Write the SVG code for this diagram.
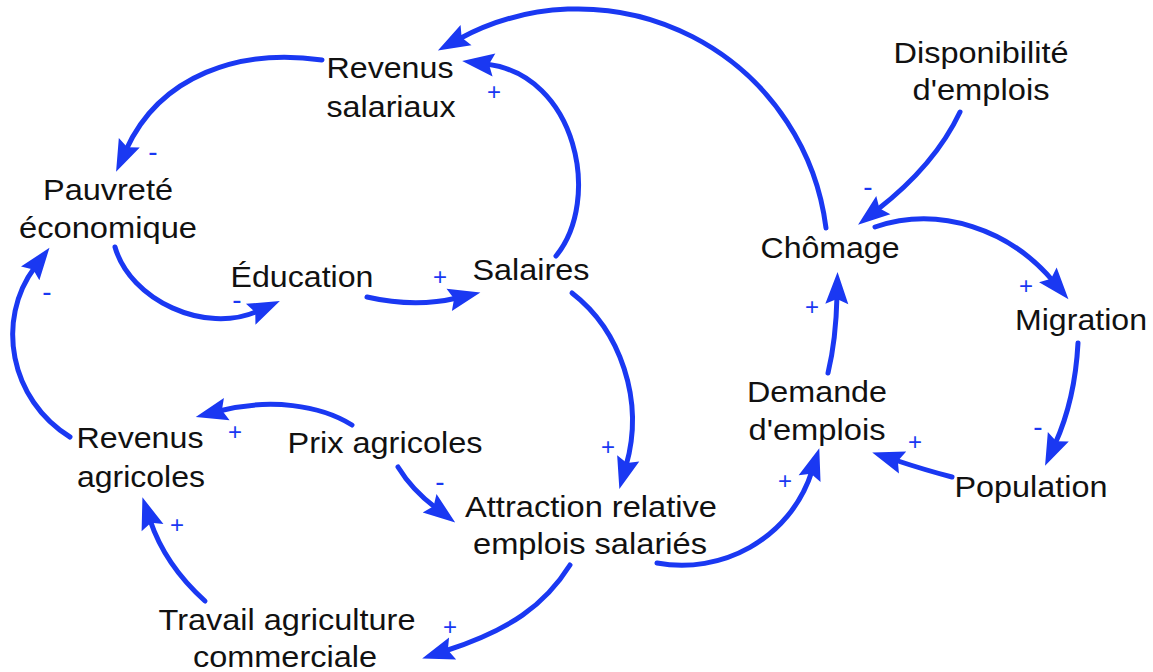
<svg xmlns="http://www.w3.org/2000/svg" width="1153" height="672" viewBox="0 0 1153 672">
<style>
.n{font-family:"Liberation Sans",Arial,sans-serif;font-size:30px;fill:#111;text-anchor:middle}
.c{fill:none;stroke:#1a38f2;stroke-width:5;stroke-linecap:round;marker-end:url(#ah)}
.p{font-family:"Liberation Sans",Arial,sans-serif;font-size:24px;fill:#1a38f2;text-anchor:middle}
.m{font-family:"Liberation Sans",Arial,sans-serif;font-size:28px;fill:#1a38f2;text-anchor:middle}
</style>
<defs>
<marker id="ah" markerUnits="userSpaceOnUse" markerWidth="32" markerHeight="24" refX="8" refY="12" orient="auto" overflow="visible">
<path d="M0,0.5 L32,12 L0,23.5 L5,12 Z" fill="#1a38f2"/>
</marker>
</defs>
<rect width="1153" height="672" fill="#fff"/>
<g id="connectors">
<path class="c" d="M322,60 C240,48 160,75 126,150"/>
<path class="c" d="M115,247 C130,300 205,335 258,311"/>
<path class="c" d="M367,297 Q415,308 457,298"/>
<path class="c" d="M556,256 C602,200 577,75 486,64"/>
<path class="c" d="M826,228 A250,250 0 0 0 459,39"/>
<path class="c" d="M960,112 Q935,165 877,210"/>
<path class="c" d="M875,227 C940,205 1010,230 1053,281"/>
<path class="c" d="M1078,343 Q1075,400 1055,444"/>
<path class="c" d="M952,477 Q925,470 895,460"/>
<path class="c" d="M828,373 Q836,340 837,296"/>
<path class="c" d="M657,563 C720,575 790,540 812,471"/>
<path class="c" d="M572,293 C620,330 645,400 626,466"/>
<path class="c" d="M352,425 C320,405 270,398 219,411"/>
<path class="c" d="M398,467 Q412,490 436,508"/>
<path class="c" d="M570,565 C545,605 510,630 445,651"/>
<path class="c" d="M205,601 Q165,565 150,520"/>
<path class="c" d="M70,437 C10,400 -5,320 35,267"/>
<text class="m" x="153" y="161">-</text>
<text class="m" x="237" y="309">-</text>
<text class="p" x="440" y="285">+</text>
<text class="p" x="494" y="100">+</text>
<text class="m" x="478" y="67">-</text>
<text class="m" x="868" y="196">-</text>
<text class="p" x="1026" y="294">+</text>
<text class="m" x="1038" y="436">-</text>
<text class="p" x="915" y="450">+</text>
<text class="p" x="812" y="315">+</text>
<text class="p" x="785" y="489">+</text>
<text class="p" x="608" y="455">+</text>
<text class="p" x="235" y="440">+</text>
<text class="m" x="440" y="491">-</text>
<text class="p" x="450" y="635">+</text>
<text class="p" x="177" y="533">+</text>
<text class="m" x="47" y="301">-</text>
</g>
<g id="revenus-salariaux"><text class="n" x="390" y="78" textLength="127" lengthAdjust="spacingAndGlyphs">Revenus</text><text class="n" x="391" y="117" textLength="129" lengthAdjust="spacingAndGlyphs">salariaux</text></g>
<g id="pauvrete"><text class="n" x="108" y="200" textLength="130" lengthAdjust="spacingAndGlyphs">Pauvreté</text><text class="n" x="108" y="238" textLength="178" lengthAdjust="spacingAndGlyphs">économique</text></g>
<g id="education"><text class="n" x="302" y="287" textLength="143" lengthAdjust="spacingAndGlyphs">Éducation</text></g>
<g id="salaires"><text class="n" x="531" y="280" textLength="117" lengthAdjust="spacingAndGlyphs">Salaires</text></g>
<g id="chomage"><text class="n" x="830" y="258" textLength="139" lengthAdjust="spacingAndGlyphs">Chômage</text></g>
<g id="disponibilite"><text class="n" x="981" y="63" textLength="175" lengthAdjust="spacingAndGlyphs">Disponibilité</text><text class="n" x="981" y="100" textLength="137" lengthAdjust="spacingAndGlyphs">d'emplois</text></g>
<g id="migration"><text class="n" x="1081" y="330" textLength="132" lengthAdjust="spacingAndGlyphs">Migration</text></g>
<g id="demande"><text class="n" x="817" y="402" textLength="140" lengthAdjust="spacingAndGlyphs">Demande</text><text class="n" x="817" y="440" textLength="137" lengthAdjust="spacingAndGlyphs">d'emplois</text></g>
<g id="population"><text class="n" x="1031" y="497" textLength="153" lengthAdjust="spacingAndGlyphs">Population</text></g>
<g id="revenus-agricoles"><text class="n" x="140" y="448" textLength="127" lengthAdjust="spacingAndGlyphs">Revenus</text><text class="n" x="141" y="487" textLength="128" lengthAdjust="spacingAndGlyphs">agricoles</text></g>
<g id="prix-agricoles"><text class="n" x="385" y="453" textLength="195" lengthAdjust="spacingAndGlyphs">Prix agricoles</text></g>
<g id="attraction"><text class="n" x="591" y="517" textLength="252" lengthAdjust="spacingAndGlyphs">Attraction relative</text><text class="n" x="590" y="554" textLength="234" lengthAdjust="spacingAndGlyphs">emplois salariés</text></g>
<g id="travail"><text class="n" x="287" y="630" textLength="257" lengthAdjust="spacingAndGlyphs">Travail agriculture</text><text class="n" x="285" y="667" textLength="184" lengthAdjust="spacingAndGlyphs">commerciale</text></g>
</svg>
